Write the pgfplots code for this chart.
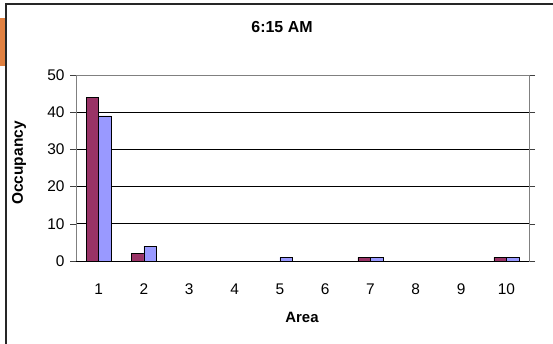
\documentclass[border=0pt]{standalone}
\usepackage{pgfplots}
\pgfplotsset{compat=1.18}
\usepackage{fontspec}
\setmainfont{Liberation Sans}
\definecolor{barred}{RGB}{153,51,102}
\definecolor{barblue}{RGB}{153,153,255}
\definecolor{frameorange}{RGB}{224,128,64}
\begin{document}
\begin{tikzpicture}[x=1bp,y=1bp]
\useasboundingbox (0,0) rectangle (553,343);
\clip (0,0) rectangle (553,343);
\fill[frameorange] (0,277) rectangle (5,325);
\draw[line width=1.6bp, color=black!85] (6,-10) -- (6,339) -- (570,339);
\node[font=\bfseries\fontsize{16}{18}\selectfont] at (282,316) {6:15 AM};
\node[font=\bfseries\fontsize{15.5}{18}\selectfont, rotate=90] at (19,180) {Occupancy};
\node[font=\bfseries\fontsize{15}{17}\selectfont] at (302,26) {Area};
\begin{axis}[
  at={(76bp,82bp)}, anchor=south west,
  scale only axis, width=453bp, height=186bp,
  xmin=0.5, xmax=10.5, ymin=0, ymax=50,
  axis line style={draw=gray},
  xtick={1,...,10},
  major x tick style={draw=none},
  extra x ticks={0.5,1.5,...,10.5},
  extra x tick labels={},
  extra x tick style={tick style={draw=black!75, thin}, major tick length=6bp, tick align=outside, grid=none},
  ytick={0,10,...,50},
  major tick length=6bp,
  tick align=outside,
  ytick style={draw=black!75, thin},
  ymajorgrids,
  grid style={black, line width=0.8bp},
  tick label style={font=\fontsize{15.5}{17}\selectfont},
  /pgf/number format/assume math mode=true,
  xticklabel style={yshift=-13bp},
  yticklabel style={xshift=-2bp},
  ybar, bar width=12.5bp,
]
\addplot[ybar, bar shift=-6.25bp, fill=barred, draw=black, line width=0.7bp]
  coordinates {(1,44) (2,2) (7,1) (10,1)};
\addplot[ybar, bar shift=6.25bp, fill=barblue, draw=black, line width=0.7bp]
  coordinates {(1,39) (2,4) (5,1) (7,1) (10,1)};
\draw[black, line width=0.8bp] (axis cs:0.5,0) -- (axis cs:10.5,0);
\end{axis}
\end{tikzpicture}
\end{document}
